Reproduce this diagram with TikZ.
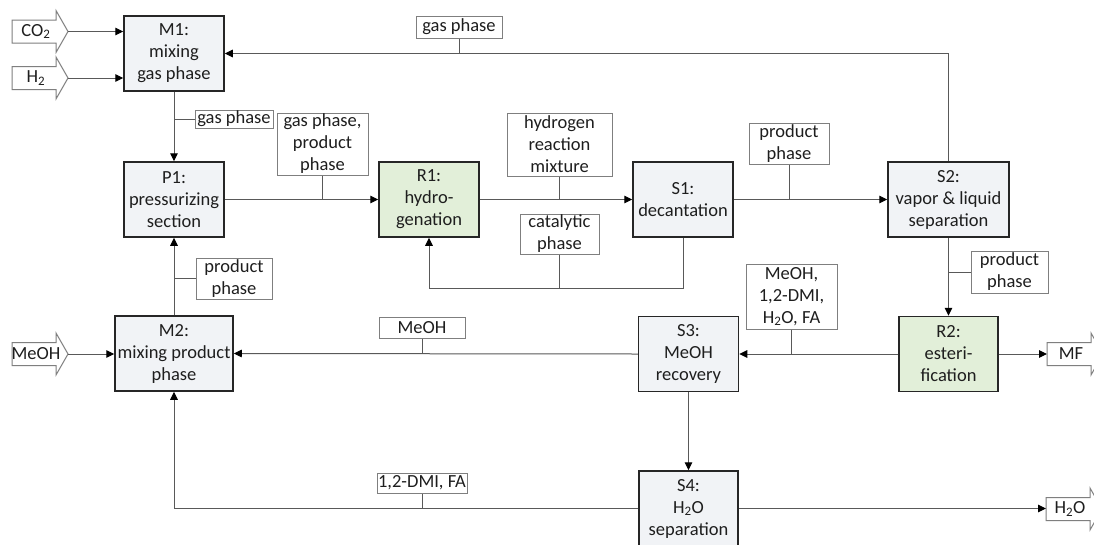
\documentclass[tikz,border=0pt]{standalone}
\usepackage{fontspec}
\setmainfont{Carlito}
\usetikzlibrary{arrows.meta,calc}
\definecolor{lineg}{HTML}{595959}
\definecolor{procb}{HTML}{262626}
\definecolor{procf}{HTML}{F1F3F6}
\definecolor{grn}{HTML}{E2EFD9}
\definecolor{labb}{HTML}{7F7F7F}
\definecolor{txtc}{HTML}{1E1E1E}
\tikzset{
  txt/.style={font=\fontsize{18.5}{22}\selectfont, text=txtc},
  proc/.style={txt, draw=procb, line width=1.5pt, fill=procf, align=center,
    inner sep=0pt, minimum width=100pt, minimum height=75pt},
  greenproc/.style={proc, fill=grn},
  lab/.style={txt, draw=labb, line width=1pt, fill=white, align=center, inner sep=0pt},
  flow/.style={draw=lineg, line width=1pt},
  arr/.style={flow, -{Triangle[length=8pt,width=7.5pt,color=black]}},
}
\newcommand\blkarrow[4]{%
  \draw[labb, line width=1pt, fill=white] (#2,#3-11.5) -- ++(44,0) -- ++(0,-9.5)
    -- ++(12,21) -- ++(-12,21) -- ++(0,-9.5) -- ++(-44,0) -- cycle;
  \node[txt, inner sep=0pt] (#1) at (#2+24,#3) {#4};
  \coordinate (#1tip) at (#2+56,#3);
  \coordinate (#1tail) at (#2,#3);
}
\begin{document}
\begin{tikzpicture}[x=1pt,y=-1pt]
\useasboundingbox (0,0) rectangle (1094,544);
\clip (0,0) rectangle (1094,544);
\fill[white] (0,0) rectangle (1094,544);

% process nodes
\node[proc] (M1) at (174,53.5) {M1:\\mixing\\gas phase};
\node[proc] (P1) at (174,199.5) {P1:\\pressurizing\\section};
\node[greenproc] (R1) at (429,199.5) {R1:\\hydro-\\genation};
\node[proc] (S1) at (683,199.5) {S1:\\decantation};
\node[proc, minimum width=121pt] (S2) at (948.5,199.5) {S2:\\vapor \& liquid\\separation};
\node[proc, minimum width=118pt] (M2) at (174,353.5) {M2:\\mixing product\\phase};
\node[proc] (S3) at (688.5,354) {S3:\\MeOH\\recovery};
\node[greenproc, minimum width=99pt] (R2) at (948.5,354) {R2:\\esteri-\\fication};
\node[proc, minimum width=99pt] (S4) at (688.5,508.5) {S4:\\H\textsubscript{2}O\\separation};

% block arrows
\blkarrow{co2}{12}{31.5}{CO\textsubscript{2}}
\blkarrow{h2}{12}{78}{H\textsubscript{2}}
\blkarrow{meoh}{12}{354}{MeOH}
\blkarrow{mf}{1047}{354}{MF}
\blkarrow{hwo}{1046}{509}{H\textsubscript{2}O}

% helper
\coordinate (rc) at (0,288);

% connectors
\draw[arr] (co2tip) -- (co2tip -| M1.west);
\draw[arr] (h2tip) -- (h2tip -| M1.west);
\draw[arr] (meohtip) -- (meohtip -| M2.west);
\draw[arr] (M1.south) -- (P1.north);
\draw[arr] (M2.north) -- (P1.south);
\draw[arr] (P1.east) -- (R1.west);
\draw[arr] (R1.east) -- (S1.west);
\draw[arr] (S1.east) -- (S2.west);
\draw[arr] (S2.north) |- (M1.east);
\draw[arr] (S1.south) -- (S1.south |- rc) -| (R1.south);
\draw[arr] (S2.south) -- (R2.north);
\draw[arr] (R2.west) -- (S3.east);
\draw[arr] (S3.west) -- (M2.east);
\draw[arr] (S3.south) -- (S4.north);
\draw[arr] (S4.west) -| (M2.south);
\draw[arr] (R2.east) -- (mftail);
\draw[arr] (S4.east) -- (hwotail |- S4.east);

% labels
\node[lab, minimum width=78pt, minimum height=18pt] (lgas1) at (234,119) {gas phase};
\draw[flow] (lgas1.west) -- (lgas1.west -| M1.south);
\node[lab, minimum width=91pt, minimum height=62pt] (lgpp) at (322.5,144) {gas phase,\\product\\phase};
\draw[flow] (lgpp.south) -- (lgpp.south |- P1.east);
\node[lab, minimum width=105pt, minimum height=63pt] (lhrm) at (559.5,144.5) {hydrogen\\reaction\\mixture};
\draw[flow] (lhrm.south) -- (lhrm.south |- R1.east);
\node[lab, minimum width=79pt, minimum height=40pt] (lcat) at (559.5,234) {catalytic\\phase};
\draw[flow] (lcat.south) -- (lcat.south |- rc);
\node[lab, minimum width=80pt, minimum height=41pt] (lpps1) at (789,143.5) {product\\phase};
\draw[flow] (lpps1.south) -- (lpps1.south |- S1.east);
\node[lab, minimum width=86pt, minimum height=22pt] (lgastop) at (459,27) {gas phase};
\draw[flow] (lgastop.south) -- (lgastop.south |- M1.east);
\node[lab, minimum width=76pt, minimum height=41pt] (lppp1) at (234,278.5) {product\\phase};
\draw[flow] (lppp1.west) -- (lppp1.west -| P1.south);
\node[lab, minimum width=77pt, minimum height=42pt] (lppr2) at (1009.5,272) {product\\phase};
\draw[flow] (lppr2.west) -- (lppr2.west -| S2.south);
\node[lab, minimum width=91pt, minimum height=65pt] (lmix) at (791.5,296.5) {MeOH,\\1,2-DMI,\\H\textsubscript{2}O, FA};
\draw[flow] (lmix.south) -- (lmix.south |- S3.east);
\node[lab, minimum width=86pt, minimum height=21pt] (lmeoh) at (422,327.5) {MeOH};
\draw[flow] (lmeoh.south) -- (lmeoh.south |- M2.east);
\node[lab, minimum width=90pt, minimum height=20pt] (ldmi) at (422,483) {1,2-DMI, FA};
\draw[flow] (ldmi.south) -- (ldmi.south |- S4.west);
\end{tikzpicture}
\end{document}
